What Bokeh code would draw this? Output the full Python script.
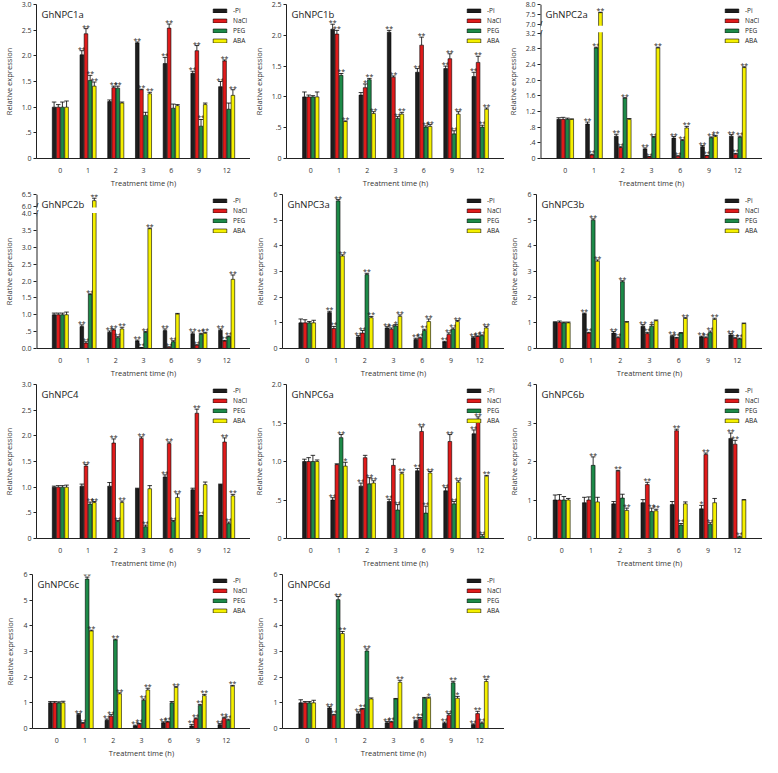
from bokeh.plotting import figure
from bokeh.models import (ColumnDataSource, FactorRange, Range1d, FixedTicker,
                          Legend, LegendItem, Label, BoxAnnotation)
from bokeh.transform import dodge
from bokeh.layouts import column, row
from bokeh.embed import file_html
from bokeh.resources import INLINE
from bokeh.core.properties import value

FONT = "Open Sans"
times = ["0", "1", "2", "3", "6", "9", "12"]
series = ["-Pi", "NaCl", "PEG", "ABA"]
fill_colors = ["#1e1e1e", "#e01b1b", "#1d8a48", "#f5f000"]
x_label = "Treatment time (h)"
y_label = "Relative expression"

# rows: -Pi, NaCl, PEG, ABA ; significance codes: 0 none, 1 "*", 2 "**"
npc1a_mean = [[1.00, 2.02, 1.11, 2.25, 1.85, 1.66, 1.40],
              [1.00, 2.43, 1.38, 1.34, 2.54, 2.10, 1.90],
              [1.00, 1.52, 1.37, 0.84, 0.98, 0.63, 0.96],
              [1.00, 1.41, 1.08, 1.26, 1.03, 1.05, 1.23]]
npc1a_err = [[0.10, 0.08, 0.03, 0.02, 0.12, 0.04, 0.10],
             [0.05, 0.10, 0.03, 0.01, 0.08, 0.10, 0.02],
             [0.10, 0.10, 0.04, 0.06, 0.08, 0.13, 0.12],
             [0.12, 0.08, 0.02, 0.03, 0.02, 0.03, 0.11]]
npc1a_sig = ["0202222", "0222222", "0220020", "0202002"]

npc1b_mean = [[1.00, 2.10, 1.03, 2.05, 1.40, 1.46, 1.33],
              [1.00, 2.02, 1.15, 1.32, 1.84, 1.62, 1.56],
              [1.00, 1.35, 1.28, 0.65, 0.51, 0.40, 0.51],
              [1.00, 0.60, 0.73, 0.72, 0.52, 0.72, 0.80]]
npc1b_err = [[0.08, 0.08, 0.04, 0.03, 0.06, 0.04, 0.07],
             [0.03, 0.06, 0.06, 0.02, 0.13, 0.08, 0.10],
             [0.02, 0.03, 0.02, 0.03, 0.02, 0.05, 0.03],
             [0.08, 0.01, 0.03, 0.03, 0.03, 0.04, 0.02]]
npc1b_sig = ["0202222", "0212222", "0222222", "0222222"]

npc2a_mean = [[1.00, 0.88, 0.57, 0.24, 0.52, 0.30, 0.57],
              [1.00, 0.09, 0.28, 0.04, 0.06, 0.07, 0.11],
              [1.00, 2.82, 1.54, 0.54, 0.46, 0.53, 0.54],
              [1.00, 7.60, 1.00, 2.82, 0.78, 0.56, 2.32]]
npc2a_err = [[0.04, 0.05, 0.05, 0.03, 0.04, 0.03, 0.04],
             [0.05, 0.02, 0.02, 0.01, 0.01, 0.01, 0.02],
             [0.03, 0.02, 0.01, 0.02, 0.02, 0.02, 0.03],
             [0.01, 0.02, 0.02, 0.02, 0.04, 0.03, 0.02]]
npc2a_sig = ["0222222", "0222222", "0222222", "0202222"]

npc2b_mean = [[1.00, 0.65, 0.48, 0.22, 0.53, 0.44, 0.54],
              [1.00, 0.16, 0.55, 0.02, 0.04, 0.10, 0.22],
              [1.00, 1.60, 0.32, 0.48, 0.20, 0.42, 0.35],
              [1.00, 6.25, 0.58, 3.55, 1.02, 0.45, 2.05]]
npc2b_err = [[0.05, 0.05, 0.04, 0.03, 0.05, 0.05, 0.04],
             [0.05, 0.04, 0.03, 0.01, 0.01, 0.01, 0.02],
             [0.05, 0.02, 0.03, 0.02, 0.03, 0.03, 0.02],
             [0.08, 0.10, 0.05, 0.02, 0.02, 0.03, 0.13]]
npc2b_sig = ["0222222", "0222222", "0222222", "0222022"]

npc3a_mean = [[1.00, 1.40, 0.45, 0.80, 0.35, 0.25, 0.42],
              [1.00, 0.78, 0.60, 0.75, 0.40, 0.55, 0.47],
              [1.00, 5.75, 2.88, 0.88, 0.70, 0.75, 0.50],
              [1.00, 3.60, 1.20, 1.25, 1.05, 1.05, 0.80]]
npc3a_err = [[0.15, 0.05, 0.05, 0.05, 0.05, 0.03, 0.04],
             [0.12, 0.08, 0.10, 0.05, 0.04, 0.06, 0.02],
             [0.05, 0.05, 0.05, 0.05, 0.05, 0.05, 0.03],
             [0.10, 0.05, 0.05, 0.06, 0.10, 0.04, 0.05]]
npc3a_sig = ["0222222", "0222222", "0221222", "0222222"]

npc3b_mean = [[1.02, 1.35, 0.60, 0.87, 0.48, 0.45, 0.53],
              [1.02, 0.60, 0.42, 0.58, 0.40, 0.42, 0.40],
              [1.00, 5.00, 2.60, 0.87, 0.60, 0.62, 0.37],
              [1.00, 3.40, 1.02, 1.08, 1.17, 1.13, 0.97]]
npc3b_err = [[0.02, 0.03, 0.06, 0.06, 0.04, 0.03, 0.05],
             [0.05, 0.03, 0.03, 0.05, 0.03, 0.03, 0.02],
             [0.03, 0.05, 0.04, 0.06, 0.02, 0.06, 0.03],
             [0.03, 0.05, 0.03, 0.03, 0.03, 0.05, 0.02]]
npc3b_sig = ["0222222", "0222222", "0221022", "0200220"]

npc4_mean = [[1.00, 1.02, 1.02, 0.97, 1.20, 0.95, 1.05],
             [1.00, 1.41, 1.86, 1.95, 1.85, 2.44, 1.88],
             [1.00, 0.67, 0.33, 0.23, 0.33, 0.44, 0.29],
             [1.00, 0.70, 0.70, 0.97, 0.80, 1.05, 0.83]]
npc4_err = [[0.02, 0.04, 0.07, 0.01, 0.04, 0.03, 0.01],
            [0.03, 0.03, 0.08, 0.03, 0.03, 0.08, 0.08],
            [0.03, 0.04, 0.02, 0.03, 0.02, 0.01, 0.03],
            [0.04, 0.02, 0.03, 0.06, 0.07, 0.05, 0.03]]
npc4_sig = ["0000200", "0222222", "0222222", "0220202"]

npc6a_mean = [[1.00, 0.50, 0.68, 0.48, 0.88, 0.62, 1.36],
              [1.00, 0.96, 1.05, 0.95, 1.39, 1.26, 1.55],
              [1.00, 1.31, 0.71, 0.37, 0.33, 0.45, 0.03],
              [1.00, 0.94, 0.72, 0.84, 0.85, 0.73, 0.81]]
npc6a_err = [[0.03, 0.03, 0.04, 0.03, 0.03, 0.04, 0.05],
             [0.05, 0.01, 0.03, 0.08, 0.06, 0.09, 0.03],
             [0.08, 0.04, 0.08, 0.07, 0.09, 0.03, 0.02],
             [0.02, 0.05, 0.03, 0.02, 0.02, 0.02, 0.01]]
npc6a_sig = ["0222222", "0000222", "0222222", "0122222"]

npc6b_mean = [[1.00, 0.93, 0.90, 0.93, 0.88, 0.77, 2.60],
              [1.00, 1.00, 1.75, 1.40, 2.80, 2.18, 2.45],
              [1.00, 1.90, 1.05, 0.70, 0.35, 0.37, 0.04],
              [1.00, 0.95, 0.73, 0.72, 0.90, 0.93, 1.00]]
npc6b_err = [[0.13, 0.14, 0.06, 0.08, 0.08, 0.09, 0.14],
             [0.14, 0.08, 0.02, 0.06, 0.04, 0.04, 0.10],
             [0.09, 0.22, 0.10, 0.09, 0.04, 0.04, 0.02],
             [0.04, 0.12, 0.06, 0.04, 0.05, 0.11, 0.01]]
npc6b_sig = ["0000012", "0022222", "0202222", "0022000"]

npc6c_mean = [[1.00, 0.55, 0.32, 0.10, 0.22, 0.10, 0.15],
              [1.00, 0.20, 0.48, 0.17, 0.25, 0.38, 0.40],
              [1.00, 5.82, 3.45, 1.10, 1.00, 0.90, 0.32],
              [1.00, 3.80, 1.35, 1.50, 1.60, 1.28, 1.65]]
npc6c_err = [[0.05, 0.03, 0.05, 0.03, 0.04, 0.06, 0.04],
             [0.05, 0.03, 0.06, 0.03, 0.03, 0.03, 0.04],
             [0.04, 0.08, 0.03, 0.05, 0.05, 0.04, 0.04],
             [0.06, 0.03, 0.04, 0.07, 0.03, 0.05, 0.03]]
npc6c_sig = ["0222222", "0222222", "0222022", "0222222"]

npc6d_mean = [[1.00, 0.80, 0.57, 0.22, 0.28, 0.20, 0.15],
              [1.00, 0.52, 0.75, 0.25, 0.38, 0.52, 0.58],
              [1.00, 5.02, 3.02, 1.15, 1.18, 1.78, 0.20],
              [1.00, 3.70, 1.15, 1.80, 1.18, 1.18, 1.83]]
npc6d_err = [[0.12, 0.05, 0.08, 0.05, 0.04, 0.05, 0.03],
             [0.05, 0.03, 0.03, 0.03, 0.05, 0.06, 0.09],
             [0.05, 0.12, 0.08, 0.02, 0.03, 0.06, 0.05],
             [0.10, 0.08, 0.04, 0.08, 0.04, 0.07, 0.09]]
npc6d_sig = ["0222222", "0222222", "0220022", "0202112"]

ticks_30 = [0, 0.5, 1.0, 1.5, 2.0, 2.5, 3.0]
labels_30 = ["0", ".5", "1.0", "1.5", "2.0", "2.5", "3.0"]
ticks_25 = [0, 0.5, 1.0, 1.5, 2.0, 2.5]
labels_25 = ["0", ".5", "1.0", "1.5", "2.0", "2.5"]
ticks_20 = [0, 0.5, 1.0, 1.5, 2.0]
labels_20 = ["0", ".5", "1.0", "1.5", "2.0"]
ticks_6 = [0, 1, 2, 3, 4, 5, 6]
labels_6 = ["0", "1", "2", "3", "4", "5", "6"]
ticks_4 = [0, 1, 2, 3, 4]
labels_4 = ["0", "1", "2", "3", "4"]
ticks_2a = [0, 0.4, 0.8, 1.2, 1.6, 2.0, 2.4, 2.8, 3.2, 7.0, 7.5, 8.0]
labels_2a = ["0", ".4", ".8", "1.2", "1.6", "2.0", "2.4", "2.8", "3.2", "7.0", "7.5", "8.0"]
ticks_2b = [0, 0.5, 1.0, 1.5, 2.0, 2.5, 3.0, 3.5, 4.0, 6.0, 6.5]
labels_2b = ["0.0", ".5", "1.0", "1.5", "2.0", "2.5", "3.0", "3.5", "4.0", "6.0", "6.5"]

OFFSETS = [-0.225, -0.075, 0.075, 0.225]
BAR_W = 0.13
PAD = 0.36
H = 190


def make_panel(name, means, errs, sigs, ticks, tick_labels, y_top, width, brk=None):
    def tf(v):
        if brk is None:
            return v
        lo, hi, gap, sc = brk
        if v <= lo:
            return v
        return lo + gap + (v - hi) * sc

    y_end = tf(y_top)
    p = figure(x_range=FactorRange(factors=times, range_padding=PAD,
                                   range_padding_units="absolute"),
               y_range=Range1d(0, y_end), width=width, height=H,
               output_backend="svg", toolbar_location=None,
               min_border_left=32, min_border_right=0, min_border_top=4,
               min_border_bottom=20)
    p.outline_line_color = None
    p.xgrid.visible = False
    p.ygrid.visible = False
    p.background_fill_color = "white"

    items = []
    for i, s in enumerate(series):
        tops = [tf(m) for m in means[i]]
        his = [tf(m + e) for m, e in zip(means[i], errs[i])]
        stars = ["" if c == "0" else "*" * int(c) for c in sigs[i]]
        src = ColumnDataSource(dict(t=times, top=tops, hi=his, star=stars))
        xd = dodge("t", OFFSETS[i], range=p.x_range)
        r = p.vbar(x=xd, top="top", width=BAR_W, source=src,
                   fill_color=fill_colors[i], line_color="#000000", line_width=0.6)
        p.segment(x0=xd, y0="top", x1=xd, y1="hi", source=src,
                  line_color="#000000", line_width=0.8)
        p.scatter(x=xd, y="hi", marker="dash", size=4.5, source=src,
                  line_color="#000000", line_width=0.8)
        p.text(x=xd, y="hi", text="star", source=src, text_font=value(FONT),
               text_font_size="7px", text_align="center", text_baseline="bottom",
               y_offset=3, text_color="#222222")
        items.append(LegendItem(label=s, renderers=[r]))

    if brk is not None:
        lo, hi, gap, sc = brk
        p.segment(x0=[-PAD], y0=[0], x1=[-PAD], y1=[y_end],
                  line_color="#222222", line_width=2)
        p.add_layout(BoxAnnotation(bottom=lo + 0.02, top=lo + gap - 0.02,
                                   fill_color="white", fill_alpha=1.0,
                                   line_color=None))
        for yy in (lo, lo + gap):
            p.add_layout(Label(x=-PAD, y=yy, text="/", text_align="center",
                               text_baseline="middle", text_font=FONT,
                               text_font_size="11px", text_color="#222222"))

    tpos = [tf(t) for t in ticks]
    p.yaxis.ticker = FixedTicker(ticks=tpos)
    p.yaxis.major_label_overrides = {tp: lab for tp, lab in zip(tpos, tick_labels)}

    for ax in (p.xaxis[0], p.yaxis[0]):
        ax.major_label_text_font = FONT
        ax.major_label_text_font_size = "7px"
        ax.major_label_text_color = "#333333"
        ax.axis_label_text_font = FONT
        ax.axis_label_text_font_size = "7.5px"
        ax.axis_label_text_font_style = "normal"
        ax.axis_label_text_color = "#333333"
        ax.minor_tick_line_color = None
    p.yaxis.axis_line_color = None if brk is not None else "#222222"
    p.xaxis.axis_line_color = "#222222"
    p.yaxis.major_tick_out = 3
    p.yaxis.major_tick_in = 0
    p.yaxis.major_tick_line_color = "#222222"
    p.yaxis.major_label_standoff = 2
    p.yaxis.axis_label = y_label
    p.yaxis.axis_label_standoff = 5
    p.xaxis.major_tick_line_color = None
    p.xaxis.major_label_standoff = 3
    p.xaxis.axis_label = x_label
    p.xaxis.axis_label_standoff = 2

    p.add_layout(Label(x=-PAD, y=y_end, x_offset=5, y_offset=-3, text=name,
                       text_baseline="top", text_align="left", text_font=FONT,
                       text_font_size="9.5px", text_color="#1a1a1a"))

    leg = Legend(items=items, location="top_right", orientation="vertical",
                 glyph_width=17, glyph_height=5, label_height=7, label_width=15,
                 label_standoff=5, spacing=1, padding=0, margin=2,
                 border_line_color=None, background_fill_alpha=0,
                 label_text_font=FONT, label_text_font_size="6.5px",
                 label_text_color="#222222")
    p.add_layout(leg)
    return p


W1, W2, W3 = 250, 254, 258
p1a = make_panel("GhNPC1a", npc1a_mean, npc1a_err, npc1a_sig, ticks_30, labels_30, 3.0, W1)
p1b = make_panel("GhNPC1b", npc1b_mean, npc1b_err, npc1b_sig, ticks_25, labels_25, 2.5, W2)
p2a = make_panel("GhNPC2a", npc2a_mean, npc2a_err, npc2a_sig, ticks_2a, labels_2a, 8.0, W3,
                 brk=(3.2, 7.0, 0.21, 0.52))
p2b = make_panel("GhNPC2b", npc2b_mean, npc2b_err, npc2b_sig, ticks_2b, labels_2b, 6.5, W1,
                 brk=(4.0, 6.0, 0.2, 0.73))
p3a = make_panel("GhNPC3a", npc3a_mean, npc3a_err, npc3a_sig, ticks_6, labels_6, 6, W2)
p3b = make_panel("GhNPC3b", npc3b_mean, npc3b_err, npc3b_sig, ticks_6, labels_6, 6, W3)
p4 = make_panel("GhNPC4", npc4_mean, npc4_err, npc4_sig, ticks_30, labels_30, 3.0, W1)
p6a = make_panel("GhNPC6a", npc6a_mean, npc6a_err, npc6a_sig, ticks_20, labels_20, 2.0, W2)
p6b = make_panel("GhNPC6b", npc6b_mean, npc6b_err, npc6b_sig, ticks_4, labels_4, 4, W3)
p6c = make_panel("GhNPC6c", npc6c_mean, npc6c_err, npc6c_sig, ticks_6, labels_6, 6, W1)
p6d = make_panel("GhNPC6d", npc6d_mean, npc6d_err, npc6d_sig, ticks_6, labels_6, 6, W2)

layout = column(row(p1a, p1b, p2a), row(p2b, p3a, p3b), row(p4, p6a, p6b), row(p6c, p6d))
open("out.html", "w").write(file_html(layout, INLINE))
